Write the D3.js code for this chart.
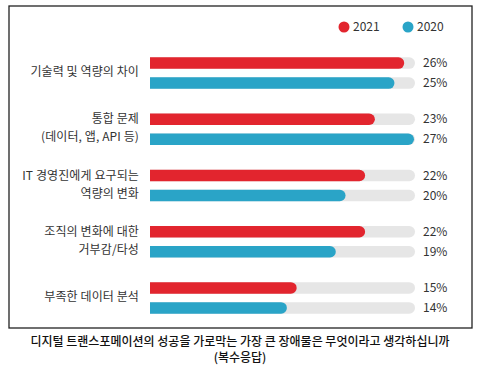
<!DOCTYPE html>
<html><head><meta charset="utf-8">
<script src="https://cdn.jsdelivr.net/npm/d3@7"></script>
<style>
html,body{margin:0;padding:0;background:#fff;}
svg text{font-family:"Noto Sans CJK KR","Noto Sans",sans-serif;}
</style></head>
<body><svg id="c" width="491" height="375"></svg>
<script>
const categories = [["기술력 및 역량의 차이"], ["통합 문제", "(데이터, 앱, API 등)"], ["IT 경영진에게 요구되는", "역량의 변화"], ["조직의 변화에 대한", "거부감/타성"], ["부족한 데이터 분석"]];
const series = ["2021", "2020"];
const values2021 = [26, 23, 22, 22, 15];
const values2020 = [25, 27, 20, 19, 14];
const colors = ["#e2252e", "#2aa4c7"];
const caption = ["디지털 트랜스포메이션의 성공을 가로막는 가장 큰 장애물은 무엇이라고 생각하십니까", "(복수응답)"];

const svg = d3.select("#c");
svg.append("rect").attr("x", 9).attr("y", 6).attr("width", 463).attr("height", 322)
  .attr("fill", "#fff").attr("stroke", "#222").attr("stroke-width", 1.3);

const x = d3.scaleLinear().domain([0, 27]).range([150, 414]);
const y = d3.scaleBand().domain(d3.range(categories.length)).range([45, 326]).paddingInner(0);
const sub = d3.scaleBand().domain(series).range([0, 40]).paddingInner(0.4).paddingOuter(0.2);
const bh = 11.5;

function barPath(x0, x1, yc, h) {
  const r = h / 2;
  const t = yc - r;
  const xe = Math.max(x0, x1 - r);
  return `M${x0},${t}H${xe}A${r},${r} 0 0 1 ${xe},${t + h}H${x0}Z`;
}

const data = categories.map((c, i) => ({ cat: c, vals: [values2021[i], values2020[i]] }));
const g = svg.selectAll("g.grp").data(data).join("g").attr("class", "grp")
  .attr("transform", (d, i) => `translate(0,${y(i) + y.bandwidth() / 2 - 20})`);

series.forEach((s, si) => {
  const yc = sub(s) + sub.bandwidth() / 2;
  g.append("path").attr("d", barPath(x(0), x(27) + 1, yc, bh)).attr("fill", "#e6e6e6");
  g.append("path").attr("d", d => barPath(x(0), x(d.vals[si]), yc, bh)).attr("fill", colors[si]);
  g.append("text").attr("x", 423).attr("y", yc).attr("dy", "0.35em")
    .attr("font-size", 12).attr("fill", "#333").text(d => d.vals[si] + "%");
});

g.each(function (d) {
  const t = d3.select(this).append("text").attr("text-anchor", "end").attr("x", 139)
    .attr("font-size", 12).attr("letter-spacing", 0.1).attr("fill", "#333");
  const n = d.cat.length;
  d.cat.forEach((line, k) => {
    t.append("tspan").attr("x", 139).attr("y", 19 + (k - (n - 1) / 2) * 18).attr("dy", "0.35em").text(line);
  });
});

const leg = svg.append("g");
const legX = [344, 408];
series.forEach((s, i) => {
  leg.append("circle").attr("cx", legX[i]).attr("cy", 27).attr("r", 5.5).attr("fill", colors[i]);
  leg.append("text").attr("x", legX[i] + 9).attr("y", 27).attr("dy", "0.35em")
    .attr("font-size", 12).attr("fill", "#333").text(s);
});

caption.forEach((c, i) => {
  svg.append("text").attr("x", 240).attr("y", 342 + i * 16).attr("dy", "0.35em")
    .attr("text-anchor", "middle").attr("font-size", 12).attr("font-weight", 500)
    .attr("fill", "#111").text(c);
});
</script></body></html>
